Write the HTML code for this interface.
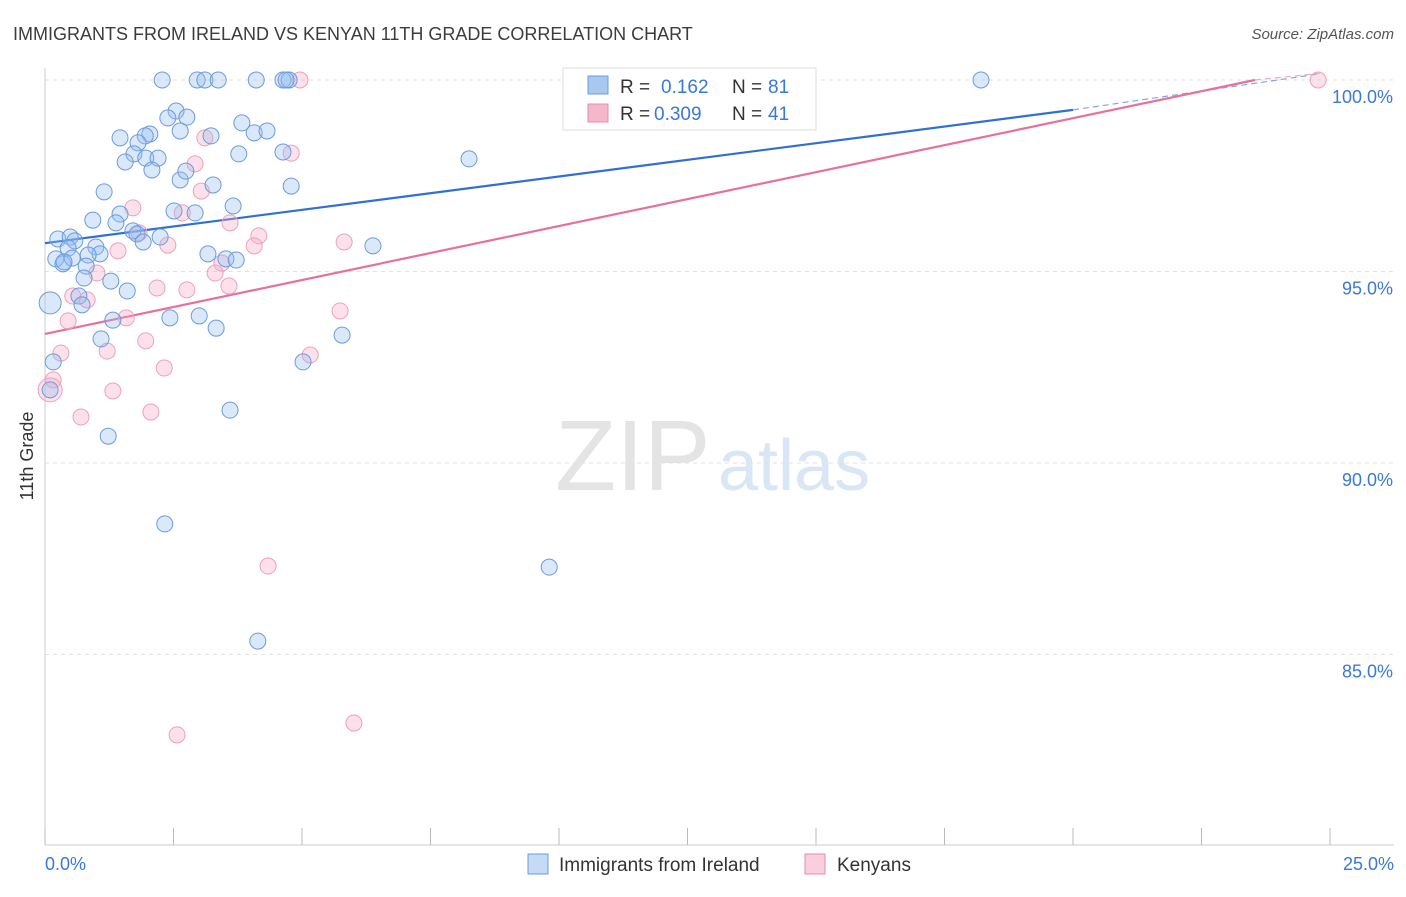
<!DOCTYPE html>
<html><head><meta charset="utf-8"><style>
body{margin:0;background:#fff;font-family:"Liberation Sans",sans-serif}
svg text{font-family:"Liberation Sans",sans-serif}
</style></head><body>
<svg id="chart" width="1406" height="892" xmlns="http://www.w3.org/2000/svg">
<text x="13" y="40" font-size="18" fill="#3c3c3c">IMMIGRANTS FROM IRELAND VS KENYAN 11TH GRADE CORRELATION CHART</text>
<text x="1394" y="39" font-size="15" fill="#555" text-anchor="end" font-style="italic">Source: ZipAtlas.com</text>
<text transform="translate(33,456) rotate(-90)" font-size="18" fill="#333" text-anchor="middle">11th Grade</text>
<g><text x="555" y="490" font-size="100" fill="#e4e4e4" font-family="Liberation Serif">ZIP</text><text x="718" y="490" font-size="72" fill="#d8e6f5">atlas</text></g>
<g id="grid"></g><g id="axes"></g><g id="lines"></g><g id="pts"></g>
<g>
<rect x="563" y="68" width="253" height="62" fill="#fff" stroke="#ddd"/>
<rect x="588" y="76" width="20" height="18" fill="#a8c8f0" stroke="#6a9be0"/>
<text x="620" y="93" font-size="19" fill="#333">R = </text><text x="661" y="93" font-size="19" fill="#3a78d8">0.162</text>
<text x="732" y="93" font-size="19" fill="#333">N = </text><text x="768" y="93" font-size="19" fill="#3a78d8">81</text>
<rect x="588" y="104" width="20" height="18" fill="#f5b8cb" stroke="#e88aa8"/>
<text x="620" y="120" font-size="19" fill="#333">R = </text><text x="654" y="120" font-size="19" fill="#3a78d8">0.309</text>
<text x="732" y="120" font-size="19" fill="#333">N = </text><text x="768" y="120" font-size="19" fill="#3a78d8">41</text>
</g>
<g>
<rect x="528" y="854" width="20" height="20" fill="#c4daf5" stroke="#6a9be0"/>
<text x="559" y="871" font-size="19" fill="#333">Immigrants from Ireland</text>
<rect x="805" y="854" width="20" height="20" fill="#f9cfdc" stroke="#e88aa8"/>
<text x="837" y="871" font-size="19" fill="#333">Kenyans</text>
</g>
</svg>
<script>
const xTicks=[0,2.5,5,7.5,10,12.5,15,17.5,20,22.5,25];
const yTicks=[100,95,90,85];
const yTickLabels=["100.0%","95.0%","90.0%","85.0%"];
const xEndLabels=["0.0%","25.0%"];
const irelandX=[2.28,2.96,3.11,3.37,4.11,4.63,4.75,4.69,18.21,2.55,2.39,2.76,1.46,2.04,1.95,2.63,3.23,3.83,4.07,4.32,1.81,1.73,1.56,1.96,2.20,2.08,2.63,2.74,3.27,3.77,4.63,4.79,8.25,1.15,3.66,2.51,2.92,1.46,0.93,1.38,1.71,1.79,1.91,2.24,0.25,0.49,0.58,0.45,0.99,1.07,0.84,0.21,0.35,0.53,0.37,6.38,3.17,3.52,3.72,0.80,0.76,1.28,1.60,0.10,0.66,0.72,1.32,2.43,3.00,3.33,1.09,5.78,0.16,5.02,0.10,3.60,1.23,2.33,9.81,4.14];
const irelandY=[100,100,100,100,100,100,100,100,100,99.19,99.01,99.03,98.49,98.59,98.54,98.67,98.54,98.88,98.62,98.67,98.36,98.07,97.86,97.96,97.96,97.65,97.39,97.62,97.26,98.07,98.12,97.23,97.94,97.08,96.71,96.58,96.53,96.50,96.34,96.27,96.06,95.98,95.77,95.90,95.85,95.90,95.80,95.61,95.64,95.46,95.43,95.33,95.20,95.35,95.25,95.67,95.46,95.33,95.30,95.14,94.83,94.75,94.49,94.18,94.36,94.13,93.73,93.79,93.84,93.52,93.24,93.34,92.64,92.64,91.91,91.38,90.70,88.41,87.28,85.35];
const irelandSize=[8,8,8,8,8,8,8,8,8,8,8,8,8,8,8,8,8,8,8,8,8,8,8,8,8,8,8,8,8,8,8,8,8,8,8,8,8,8,8,8,8,8,8,8,8,8,8,8,8,8,8,8,8,8,8,8,8,8,8,8,8,8,8,11,8,8,8,8,8,8,8,8,8,8,8,8,8,8,8,8];
const kenyaX=[10.37,4.96,24.77,3.11,4.79,2.92,3.04,1.71,2.67,3.60,1.83,4.16,2.39,1.42,4.07,5.82,1.01,3.44,3.31,3.58,2.18,2.76,0.54,0.82,1.58,0.45,5.74,0.31,1.21,1.96,5.16,2.32,0.16,1.32,0.10,0.70,2.06,4.34,6.01,2.57];
const kenyaY=[100,100,100,98.49,98.09,97.81,97.10,96.66,96.53,96.27,96.01,95.93,95.69,95.54,95.67,95.77,94.96,95.22,94.96,94.62,94.57,94.52,94.36,94.26,93.79,93.71,93.97,92.87,92.92,93.19,92.82,92.48,92.17,91.88,91.91,91.20,91.33,87.31,83.21,82.90];
const irelandLine=[[0,95.74],[20,99.22],[25,100.2]];
const kenyaLine=[[0,93.37],[23.54,100],[25,100.2]];
const NS="http://www.w3.org/2000/svg";
const X=v=>45+v/25*1285, Y=v=>80+(100-v)*38.3;
function mk(p,t,a){const e=document.createElementNS(NS,t);for(const k in a)e.setAttribute(k,a[k]);p.appendChild(e);return e;}
const grid=document.getElementById('grid'),axes=document.getElementById('axes'),lines=document.getElementById('lines'),pts=document.getElementById('pts');
yTicks.forEach((t,i)=>{
 const g=mk(grid,'line',{x1:45,x2:1394,y1:Y(t),y2:Y(t),stroke:'#e2e2e2','stroke-dasharray':'4 4'});
 
 
 const tx=mk(axes,'text',{x:1393,y:Y(t)+23,'font-size':18,fill:'#3a78d8','text-anchor':'end'});tx.textContent=yTickLabels[i];
 
 
});
mk(axes,'line',{x1:45,x2:45,y1:68,y2:845,stroke:'#ccc'});
mk(axes,'line',{x1:45,x2:1394,y1:845,y2:845,stroke:'#ccc'});
xTicks.forEach(t=>{const l=mk(axes,'line',{x1:X(t),x2:X(t),y1:828,y2:845,stroke:'#bbb'});
 
 });
const xl0=mk(axes,'text',{x:45,y:870,'font-size':18,fill:'#3a78d8'});xl0.textContent=xEndLabels[0];


const xl1=mk(axes,'text',{x:1394,y:870,'font-size':18,fill:'#3a78d8','text-anchor':'end'});xl1.textContent=xEndLabels[1];


function trend(L,c,name){
 const a=mk(lines,'line',{x1:X(L[0][0]),y1:Y(L[0][1]),x2:X(L[1][0]),y2:Y(L[1][1]),stroke:c,'stroke-width':2.2});
 
 
 const b=mk(lines,'line',{x1:X(L[1][0]),y1:Y(L[1][1]),x2:X(24.8),y2:Y(L[1][1]+(L[2][1]-L[1][1])*(24.8-L[1][0])/(L[2][0]-L[1][0])),stroke:c,'stroke-width':1.2,'stroke-dasharray':'6 4',opacity:0.6});
 
 
}
kenyaX.forEach((v,i)=>{const c=mk(pts,'circle',{cx:X(v),cy:Y(kenyaY[i]),r:i==34?12:8,fill:'rgba(245,170,195,0.35)',stroke:'#eea0ba','stroke-width':1});
 
 });
irelandX.forEach((v,i)=>{const c=mk(pts,'circle',{cx:X(v),cy:Y(irelandY[i]),r:irelandSize[i]||8,fill:'rgba(150,190,240,0.35)',stroke:'#6a9be0','stroke-width':1});
 
 });
trend(irelandLine,'#2f6fd6','ireland');
trend(kenyaLine,'#e8709a','kenyan');
</script>
</body></html>
